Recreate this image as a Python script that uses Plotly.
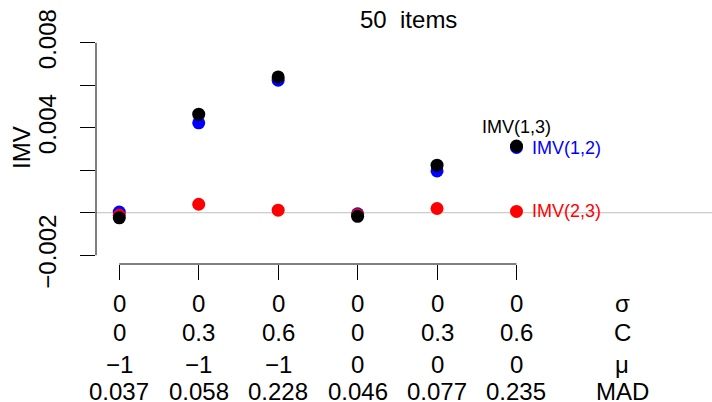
import plotly.graph_objects as go

# ---- data ----
positions = [1, 2, 3, 4, 5, 6]
sigma = ["0", "0", "0", "0", "0", "0"]
C_vals = ["0", "0.3", "0.6", "0", "0.3", "0.6"]
mu = ["\u22121", "\u22121", "\u22121", "0", "0", "0"]
MAD = ["0.037", "0.058", "0.228", "0.046", "0.077", "0.235"]
row_labels = ["\u03c3", "C", "\u03bc", "MAD"]

imv12 = [0.00003, 0.00423, 0.00624, -0.00005, 0.00197, 0.00307]   # blue
imv23 = [-0.00012, 0.00040, 0.00012, -0.00010, 0.00020, 0.00006]  # red
imv13 = [-0.00024, 0.00464, 0.00639, -0.00017, 0.00224, 0.00314]  # black

ytick_vals = [-0.002, 0.0, 0.002, 0.004, 0.006, 0.008]
ytick_text = ["\u22120.002", "", "", "0.004", "", "0.008"]

title_text = "50  items"
ylab = "IMV"

FONT = "Liberation Sans, Arial, Helvetica, sans-serif"
BIG = 24
SMALL = 18

fig = go.Figure()
for vals, col in [(imv12, "#0000FF"), (imv23, "#FF0000"), (imv13, "#000000")]:
    fig.add_trace(go.Scatter(x=positions, y=vals, mode="markers",
                             marker=dict(color=col, size=13, line=dict(width=0)),
                             showlegend=False, cliponaxis=False))

annotations = []
# bottom rows
rows = [sigma, C_vals, mu, MAD]
row_shift = [-39, -68.5, -100, -127.5]
label_x = 7.33
for r, (vals, sh) in enumerate(zip(rows, row_shift)):
    for p, v in zip(positions, vals):
        annotations.append(dict(x=p, y=0, xref="x", yref="paper", text=v, showarrow=False,
                                xanchor="center", yanchor="middle", yshift=sh,
                                font=dict(size=BIG, color="black", family=FONT)))
    annotations.append(dict(x=label_x, y=0, xref="x", yref="paper", text=row_labels[r],
                            showarrow=False, xanchor="center", yanchor="middle", yshift=sh,
                            font=dict(size=BIG, color="black", family=FONT)))

# series labels at last point
annotations.append(dict(x=positions[-1], y=imv13[-1], xref="x", yref="y", text="IMV(1,3)",
                        showarrow=False, xanchor="center", yanchor="middle", yshift=19,
                        font=dict(size=SMALL, color="black", family=FONT)))
annotations.append(dict(x=positions[-1], y=imv12[-1], xref="x", yref="y", text="IMV(1,2)",
                        showarrow=False, xanchor="left", yanchor="middle", xshift=14,
                        font=dict(size=SMALL, color="#0000FF", family=FONT)))
annotations.append(dict(x=positions[-1], y=imv23[-1], xref="x", yref="y", text="IMV(2,3)",
                        showarrow=False, xanchor="left", yanchor="middle", xshift=14,
                        font=dict(size=SMALL, color="#FF0000", family=FONT)))
# title
annotations.append(dict(x=0.508, y=1, xref="paper", yref="paper", text=title_text,
                        showarrow=False, xanchor="center", yanchor="middle", yshift=15,
                        font=dict(size=BIG, color="black", family=FONT)))
# y label
annotations.append(dict(x=0, y=0.5065, xref="paper", yref="paper", text=ylab, textangle=-90,
                        showarrow=False, xanchor="center", yanchor="middle", xshift=-74.5,
                        font=dict(size=BIG, color="black", family=FONT)))

shapes = [
    dict(type="line", xref="paper", yref="y", x0=0, x1=1, y0=0, y1=0,
         line=dict(color="#BEBEBE", width=1.2), layer="below"),
    dict(type="line", xref="paper", yref="y", x0=0, x1=0, y0=ytick_vals[0], y1=ytick_vals[-1],
         line=dict(color="black", width=1)),
    dict(type="line", xref="x", yref="paper", x0=positions[0], x1=positions[-1], y0=0, y1=0,
         line=dict(color="black", width=1)),
]

fig.update_layout(
    width=712, height=402,
    margin=dict(l=96, r=0, t=34, b=138, pad=0),
    paper_bgcolor="white", plot_bgcolor="white",
    font=dict(family=FONT, color="black"),
    annotations=annotations, shapes=shapes,
    xaxis=dict(range=[0.707, 8.461], showgrid=False, zeroline=False, showline=False,
               ticks="outside", ticklen=15, tickwidth=1, tickcolor="black",
               tickvals=positions, showticklabels=False, fixedrange=True),
    yaxis=dict(range=[-0.002412, 0.008412], showgrid=False, zeroline=False, showline=False,
               ticks="outside", ticklen=15, tickwidth=1, tickcolor="black",
               tickvals=ytick_vals, ticktext=ytick_text, tickangle=-90,
               tickfont=dict(size=BIG, family=FONT, color="black"),
               ticklabelstandoff=14, fixedrange=True),
)

fig.write_html("out.html", config={"displayModeBar": False},
               post_script="document.body.style.margin='0';document.body.style.overflow='hidden';")
